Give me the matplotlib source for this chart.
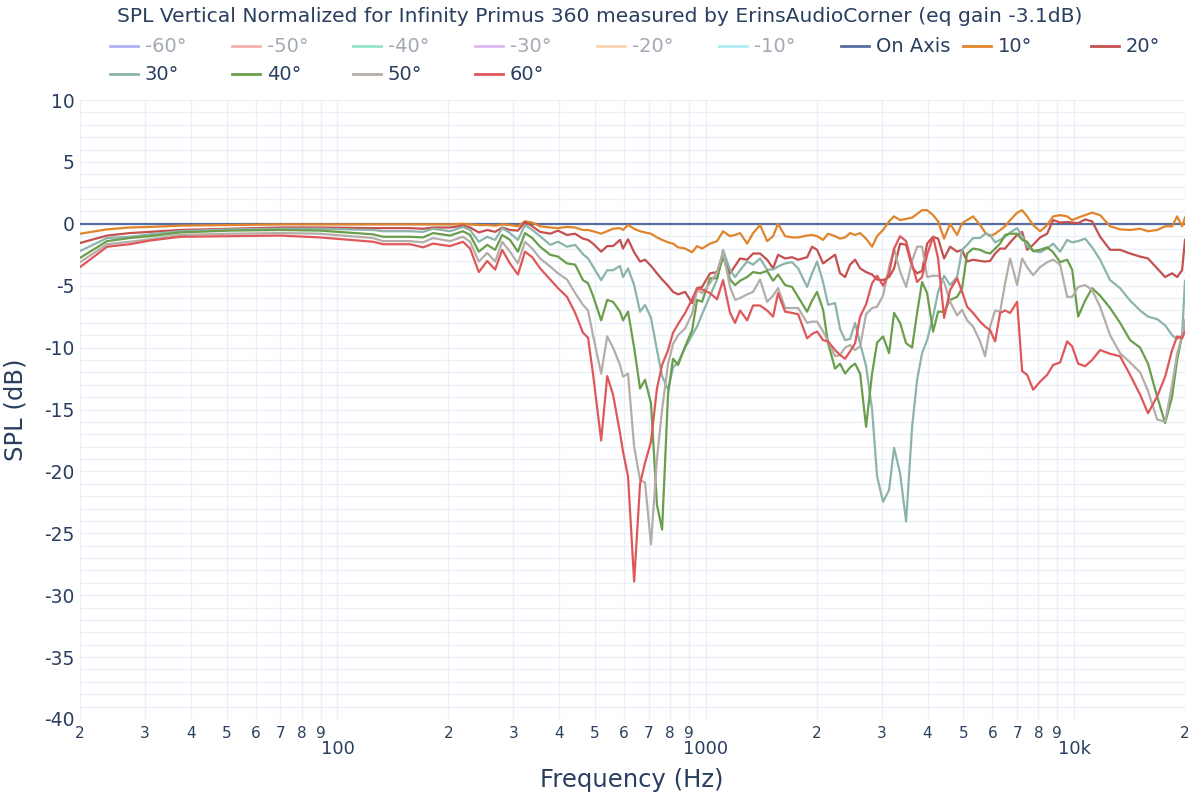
import matplotlib
matplotlib.use("Agg")
import matplotlib.pyplot as plt
from matplotlib.lines import Line2D

# --------------------------------------------------
# 1. Data (Hz, dB)
# --------------------------------------------------
freq = [
    20, 23.7, 27.3, 31.0, 37.4, 51.1, 69.8, 89.7, 124.9, 133.0,
    157.4, 170.8, 181.7, 202.1, 219.2, 229.1,
    242, 255, 268, 280, 294, 309, 323, 338, 355, 378,
    397, 420, 442, 464, 479, 494, 520, 540, 560, 585,
    596, 615, 639, 663, 684, 710, 737, 761, 790, 815,
    841, 879, 918, 947, 977, 1027, 1073, 1114, 1164, 1201,
    1239, 1295, 1344, 1404, 1467, 1523, 1571, 1642, 1715, 1781,
    1884, 1943, 2005, 2082, 2148, 2244, 2315, 2389, 2465, 2543,
    2624, 2724, 2828, 2918, 3029, 3145, 3245, 3369, 3498, 3632,
    3747, 3866, 3989, 4141, 4273, 4436, 4606, 4812, 4965, 5123,
    5318, 5556, 5733, 5915, 6103, 6296, 6497, 6703, 7003, 7226,
    7455, 7740, 8086, 8448, 8771, 9164, 9573, 9877, 10255, 10714,
    11190, 11764, 12521, 13327, 14188, 15105, 15872, 16803, 17664, 18451,
    19035, 19641, 20000,
]

freq_on = [20, 20000]
spl_on = [0.0, 0.0]

spl_10 = [
    -0.8, -0.45, -0.3, -0.25, -0.15, -0.1, -0.05, -0.05, -0.05, -0.05,
    -0.05, -0.05, -0.05, -0.05, 0.0, -0.05,
    -0.1, -0.1, -0.15, -0.05, -0.1, -0.2, 0.2, 0.1, -0.2, -0.3,
    -0.35, -0.25, -0.3, -0.5, -0.5, -0.6, -0.8, -0.6, -0.4, -0.35,
    -0.5, -0.1, -0.4, -0.6, -0.7, -0.8, -1.1, -1.3, -1.5, -1.6,
    -1.9, -2.0, -2.3, -1.8, -2.0, -1.6, -1.4, -0.6, -1.0, -0.9,
    -0.75, -1.6, -0.75, -0.1, -1.4, -1.0, 0.0, -1.0, -1.1, -1.1,
    -0.95, -0.9, -1.0, -1.3, -0.8, -1.0, -1.2, -1.1, -0.75, -0.9,
    -0.75, -1.2, -1.85, -1.0, -0.5, 0.2, 0.6, 0.3, 0.4, 0.5,
    0.8, 1.1, 1.1, 0.7, 0.2, -1.2, 0.0, -0.9, 0.05, 0.3,
    0.6, -0.1, -0.7, -1.0, -0.8, -0.5, -0.2, 0.3, 0.9, 1.1,
    0.6, -0.1, -0.6, -0.1, 0.6, 0.7, 0.6, 0.3, 0.5, 0.7,
    0.9, 0.7, -0.2, -0.45, -0.5, -0.4, -0.6, -0.5, -0.2, -0.2,
    0.6, -0.2, 0.5,
]

spl_20 = [
    -1.55, -0.95, -0.75, -0.65, -0.5, -0.4, -0.3, -0.3, -0.35, -0.35,
    -0.35, -0.4, -0.3, -0.3, -0.15, -0.3,
    -0.7, -0.5, -0.65, -0.3, -0.5, -0.55, 0.15, -0.2, -0.65, -0.8,
    -0.55, -0.9, -0.8, -1.2, -1.3, -1.6, -2.25, -1.8, -1.8, -1.3,
    -2.0, -1.25, -2.3, -3.05, -2.9, -3.4, -4.0, -4.5, -5.0, -5.5,
    -5.7, -5.5, -6.4, -5.2, -5.1, -4.0, -3.9, -2.4, -4.0, -3.4,
    -2.8, -2.9, -2.4, -2.4, -2.9, -3.6, -2.5, -2.8, -2.7, -2.9,
    -2.7, -1.85, -2.1, -3.2, -2.9, -2.5, -4.0, -4.3, -3.3, -2.9,
    -3.6, -3.9, -4.1, -4.5, -4.55, -4.3, -3.6, -1.6, -1.7, -3.5,
    -4.0, -3.8, -1.6, -1.05, -1.2, -2.8, -1.85, -2.25, -2.1, -3.05,
    -2.9, -3.0, -3.05, -3.0, -2.4, -2.0, -2.0, -1.5, -0.9, -0.65,
    -2.1, -1.7, -1.1, -0.8, 0.3, 0.1, 0.15, 0.1, 0.05, 0.35,
    0.2, -1.05, -2.1, -2.1, -2.4, -2.65, -2.8, -3.6, -4.3, -4.0,
    -4.3, -3.75, -1.3,
]

spl_30 = [
    -2.2, -1.15, -1.05, -0.85, -0.6, -0.45, -0.4, -0.4, -0.5, -0.6,
    -0.6, -0.65, -0.4, -0.6, -0.25, -0.5,
    -1.45, -1.05, -1.3, -0.35, -0.75, -1.3, -0.1, -0.5, -1.0, -1.7,
    -1.45, -1.85, -1.7, -2.45, -2.8, -3.45, -4.55, -3.75, -3.75, -3.4,
    -4.3, -3.6, -4.95, -7.1, -6.55, -7.6, -10.2, -12.3, -13.4, -11.6,
    -11.2, -10.0, -9.0, -8.3, -7.3, -5.8, -4.5, -2.1, -3.75, -4.3,
    -3.75, -3.05, -3.3, -2.8, -3.7, -3.7, -3.45, -3.2, -3.1, -3.6,
    -5.1, -4.0, -3.05, -4.7, -6.55, -6.4, -8.5, -9.4, -9.3, -8.0,
    -9.65, -11.5, -15.0, -20.4, -22.45, -21.5, -18.1, -20.15, -24.05, -16.4,
    -12.6, -10.45, -9.4, -7.5, -5.5, -4.2, -4.95, -4.3, -2.1, -1.7,
    -1.15, -1.15, -0.8, -0.9, -1.5, -1.3, -1.05, -0.7, -0.35, -1.0,
    -1.8, -2.2, -2.3, -2.0, -1.6, -2.25, -1.3, -1.5, -1.4, -1.2,
    -1.9, -2.9, -4.55, -5.2, -6.2, -7.0, -7.5, -7.7, -8.2, -9.0,
    -9.3, -9.0, -4.6,
]

spl_40 = [
    -2.75, -1.4, -1.15, -1.0, -0.7, -0.55, -0.5, -0.55, -0.85, -1.05,
    -1.05, -1.1, -0.75, -0.95, -0.6, -0.9,
    -2.25, -1.7, -2.1, -0.9, -1.3, -2.25, -0.75, -1.15, -1.85, -2.5,
    -2.65, -3.2, -3.3, -4.55, -4.8, -5.8, -7.8, -6.15, -6.3, -7.1,
    -7.8, -7.1, -10.0, -13.3, -12.6, -14.5, -22.7, -24.7, -13.7, -10.9,
    -11.4, -9.9, -8.6, -6.15, -6.3, -4.4, -4.4, -2.65, -4.5, -4.95,
    -4.6, -4.3, -3.9, -4.0, -3.8, -4.6, -4.1, -4.95, -5.1, -5.9,
    -7.1, -6.2, -5.5, -6.95, -9.65, -11.7, -11.3, -12.1, -11.6, -11.3,
    -12.1, -16.4, -12.1, -9.6, -9.1, -10.45, -7.2, -8.0, -9.65, -10.0,
    -7.2, -4.7, -5.6, -8.7, -7.1, -7.1, -6.15, -5.9, -5.2, -2.4,
    -2.0, -2.1, -2.3, -2.4, -2.0, -1.6, -0.9, -0.8, -0.8, -1.3,
    -1.45, -2.2, -2.1, -1.9, -2.3, -3.1, -2.9, -3.7, -7.5, -6.2,
    -5.2, -5.8, -6.8, -8.0, -9.4, -10.0, -11.3, -13.95, -16.1, -13.95,
    -11.0, -9.0, -8.0,
]

spl_50 = [
    -3.1, -1.65, -1.45, -1.25, -0.9, -0.8, -0.75, -0.8, -1.15, -1.4,
    -1.4, -1.5, -1.15, -1.4, -1.05, -1.45,
    -3.05, -2.35, -3.05, -1.45, -2.25, -3.2, -1.45, -2.0, -2.8, -3.45,
    -4.0, -4.5, -5.6, -6.55, -7.0, -9.0, -12.1, -9.1, -10.0, -11.4,
    -12.35, -12.1, -18.0, -20.7, -20.9, -25.9, -19.0, -15.0, -11.3, -9.7,
    -9.0, -8.45, -7.25, -5.35, -5.6, -4.8, -3.9, -2.25, -5.1, -6.15,
    -6.0, -5.7, -5.5, -4.5, -6.3, -5.8, -5.2, -6.8, -6.8, -6.8,
    -8.0, -7.9, -7.9, -8.7, -9.5, -10.7, -10.6, -10.0, -9.8, -10.2,
    -9.9, -7.3, -6.8, -6.7, -5.8, -3.5, -2.0, -3.85, -5.1, -3.0,
    -1.85, -1.85, -4.3, -4.2, -4.2, -4.7, -6.3, -7.4, -6.95, -7.8,
    -8.3, -9.5, -10.7, -8.3, -7.0, -7.1, -4.8, -2.8, -4.95, -2.8,
    -3.5, -4.15, -3.5, -3.1, -2.9, -3.3, -5.9, -5.9, -5.1, -4.95,
    -5.35, -6.7, -9.0, -10.45, -11.2, -12.0, -13.5, -15.8, -16.0, -13.0,
    -10.5, -9.0, -7.8,
]

spl_60 = [
    -3.5, -1.85, -1.65, -1.35, -1.05, -1.0, -0.95, -1.1, -1.45, -1.65,
    -1.65, -1.9, -1.6, -1.8, -1.45, -2.0,
    -3.9, -3.0, -3.7, -2.1, -3.2, -4.1, -2.25, -2.7, -3.6, -4.5,
    -5.2, -5.9, -7.2, -8.8, -9.2, -12.1, -17.5, -12.3, -13.8, -16.9,
    -18.4, -20.4, -28.9, -21.0, -19.3, -17.6, -13.3, -11.4, -10.2, -8.8,
    -8.1, -7.2, -6.1, -5.2, -5.3, -5.6, -6.1, -4.55, -7.2, -8.0,
    -7.0, -7.8, -6.6, -6.6, -7.0, -7.5, -5.6, -7.1, -7.2, -7.3,
    -9.25, -8.9, -8.7, -9.4, -9.5, -10.2, -10.6, -10.9, -10.3, -9.65,
    -7.5, -6.5, -4.8, -4.2, -5.0, -4.0, -2.0, -1.0, -1.4, -3.3,
    -4.7, -4.3, -2.5, -1.05, -2.8, -7.6, -5.35, -4.4, -5.5, -6.7,
    -7.2, -7.9, -8.3, -8.6, -9.5, -7.2, -7.0, -7.2, -6.3, -11.9,
    -12.2, -13.4, -12.75, -12.2, -11.4, -11.2, -9.5, -9.9, -11.3, -11.5,
    -11.0, -10.2, -10.5, -10.7, -12.2, -13.8, -15.3, -13.95, -12.35, -10.2,
    -9.1, -9.25, -8.7,
]

# legend entries (hidden ones first, shown faded like plotly "legendonly")
hidden_labels = ["-60°", "-50°", "-40°", "-30°", "-20°", "-10°"]
hidden_colors = ["#a9a9f6", "#f4aaa2", "#8ae2c4", "#d9b2f2", "#f9cfab", "#aaebf2"]

shown_labels = ["On Axis", "10°", "20°", "30°", "40°", "50°", "60°"]
shown_colors = ["#566ea0", "#e0852b", "#c4504f", "#8cb4ab", "#6a9e4c", "#b5ada8", "#e0575a"]
shown_freqs = [freq_on, freq, freq, freq, freq, freq, freq]
shown_spl = [spl_on, spl_10, spl_20, spl_30, spl_40, spl_50, spl_60]

digit_ticks = [20, 30, 40, 50, 60, 70, 80, 90,
               200, 300, 400, 500, 600, 700, 800, 900,
               2000, 3000, 4000, 5000, 6000, 7000, 8000, 9000, 20000]
decade_ticks = [100, 1000, 10000]
decade_labels = ["100", "1000", "10k"]

text_color = "#2a3f5f"
grid_color = "#ebf0f8"

# --------------------------------------------------
# 2. Figure
# --------------------------------------------------
plt.rcParams["font.family"] = ["DejaVu Sans"]
plt.rcParams["axes.unicode_minus"] = False

fig = plt.figure(figsize=(12, 8), dpi=100)
ax = fig.add_axes([80 / 1200, 1 - 719 / 800, 1105 / 1200, 619 / 800])

for f, s, c in zip(shown_freqs, shown_spl, shown_colors):
    ax.plot(f, s, color=c, linewidth=1.6, solid_joinstyle="round")

ax.set_xscale("log")
ax.set_xlim(20, 20000)
ax.set_ylim(-40, 10)

ax.set_xticks(digit_ticks, [str(t)[0] for t in digit_ticks])
ax.set_xticks(decade_ticks, decade_labels, minor=True)
ax.set_yticks(range(-40, 11, 5))
ax.set_yticks(range(-40, 11, 1), minor=True)

ax.tick_params(axis="x", which="major", length=0, pad=5, labelsize=11, labelcolor=text_color)
ax.tick_params(axis="x", which="minor", length=0, pad=15, labelsize=13, labelcolor=text_color)
ax.tick_params(axis="y", which="both", length=0, pad=4, labelsize=13.5, labelcolor=text_color)

ax.grid(True, which="both", color=grid_color, linewidth=1.0)
ax.set_axisbelow(True)
for sp in ax.spines.values():
    sp.set_visible(False)

fig.text(0.5, 1 - 16 / 800, "SPL Vertical Normalized for Infinity Primus 360 measured by ErinsAudioCorner (eq gain -3.1dB)",
         ha="center", va="center", fontsize=14.6, color=text_color)
fig.text(632 / 1200, 1 - 780 / 800, "Frequency (Hz)", ha="center", va="center",
         fontsize=17.5, color=text_color)
fig.text(16 / 1200, 1 - 410 / 800, "SPL (dB)", ha="center", va="center",
         rotation=90, fontsize=17.5, color=text_color)

# --------------------------------------------------
# 3. Legend drawn like the plotly horizontal legend
# --------------------------------------------------
row1_x = [110, 232, 353, 475, 597, 719, 841, 963, 1091]
row2_x = [110, 232, 353, 475]
entries = ([(l, c, True) for l, c in zip(hidden_labels, hidden_colors)]
           + [(l, c, False) for l, c in zip(shown_labels, shown_colors)])
positions = [(x, 46) for x in row1_x] + [(x, 74) for x in row2_x]

for (label, color, hidden), (px, py) in zip(entries, positions):
    yf = 1 - py / 800
    fig.add_artist(Line2D([px / 1200, (px + 28) / 1200], [yf, yf], color=color,
                          linewidth=2, alpha=0.9 if hidden else 1.0))
    fig.text((px + 35) / 1200, yf, label, ha="left", va="center", fontsize=14,
             color="#a3a9b3" if hidden else text_color)

fig.savefig("out.png", dpi=100)
